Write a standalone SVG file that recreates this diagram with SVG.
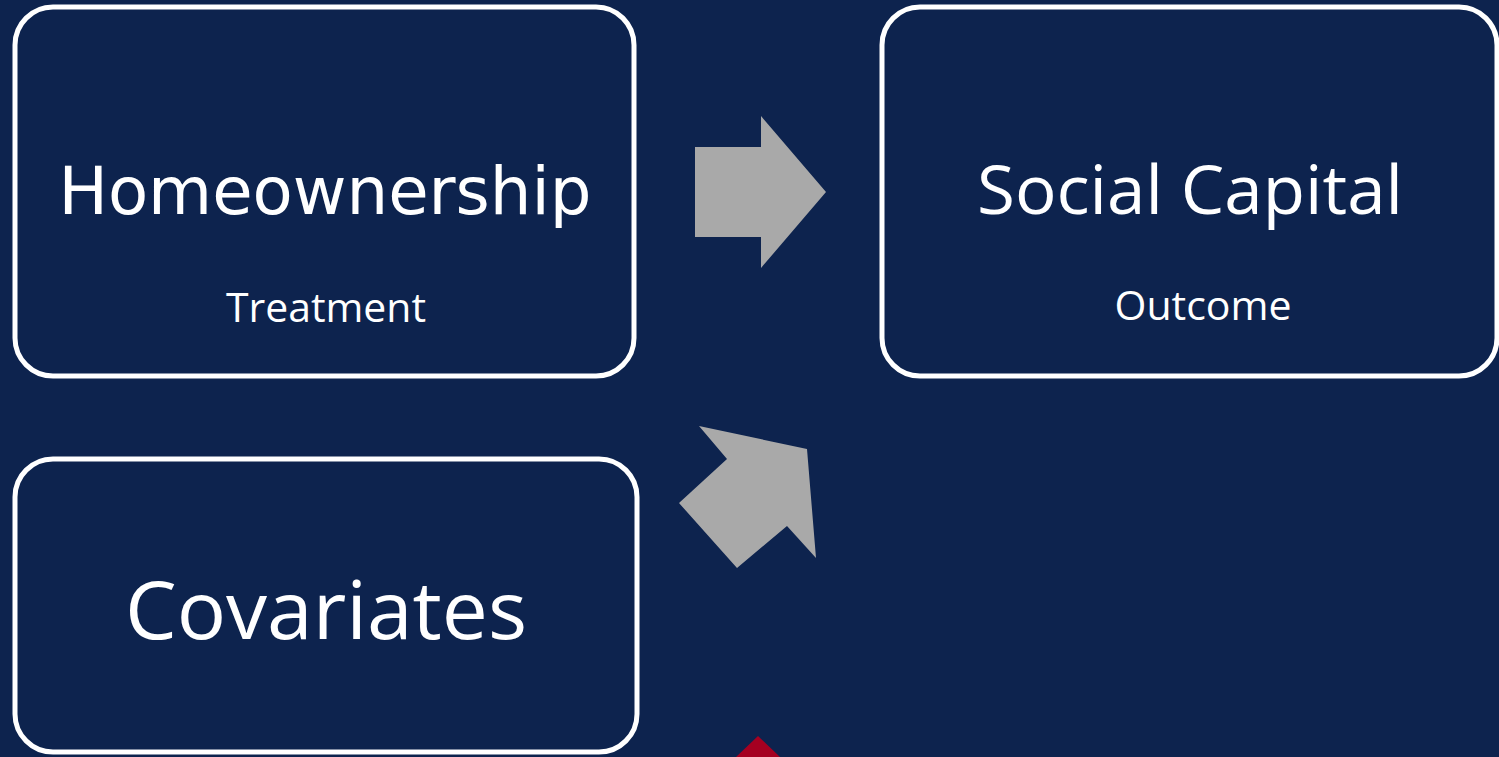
<svg xmlns="http://www.w3.org/2000/svg" width="1499" height="757" viewBox="0 0 1499 757">
  <style>
    .box { fill: #0D234E; stroke: #FFFFFF; stroke-width: 5; }
    .title { fill: #FFFFFF; font-family: "Open Sans", "Liberation Sans", sans-serif; text-anchor: middle; }
    .title.wide { font-family: "DejaVu Sans", sans-serif; }
    .sub { fill: #FFFFFF; font-family: "Open Sans", "Liberation Sans", sans-serif; text-anchor: middle; }
    .arrow { fill: #A9A9A9; }
  </style>
  <rect width="1499" height="757" fill="#0D234E"/>

  <g id="treatment">
    <rect class="box" x="15" y="7" width="619" height="369" rx="38"/>
    <text class="title wide" x="325" y="214" font-size="66" textLength="533" lengthAdjust="spacingAndGlyphs">Homeownership</text>
    <text class="sub" x="326" y="322" font-size="40" textLength="200" lengthAdjust="spacingAndGlyphs">Treatment</text>
  </g>

  <g id="outcome">
    <rect class="box" x="882" y="7" width="615" height="369" rx="38"/>
    <text class="title" x="1190" y="214" font-size="68" textLength="426" lengthAdjust="spacingAndGlyphs">Social Capital</text>
    <text class="sub" x="1203" y="320" font-size="40" textLength="177" lengthAdjust="spacingAndGlyphs">Outcome</text>
  </g>

  <g id="covariates">
    <rect class="box" x="15" y="459" width="622" height="293" rx="38"/>
    <text class="title" x="326" y="639" font-size="80" textLength="402" lengthAdjust="spacingAndGlyphs">Covariates</text>
  </g>

  <g id="connectors">
    <polygon class="arrow" points="695,147 761,147 761,116 826,192 761,268 761,237 695,237"/>
    <polygon class="arrow" points="699,426 807,449 816,558 787,526 737,568 679,503 727,459"/>
    <polygon fill="#A50021" points="758,736 780,757 736,757"/>
  </g>
</svg>
